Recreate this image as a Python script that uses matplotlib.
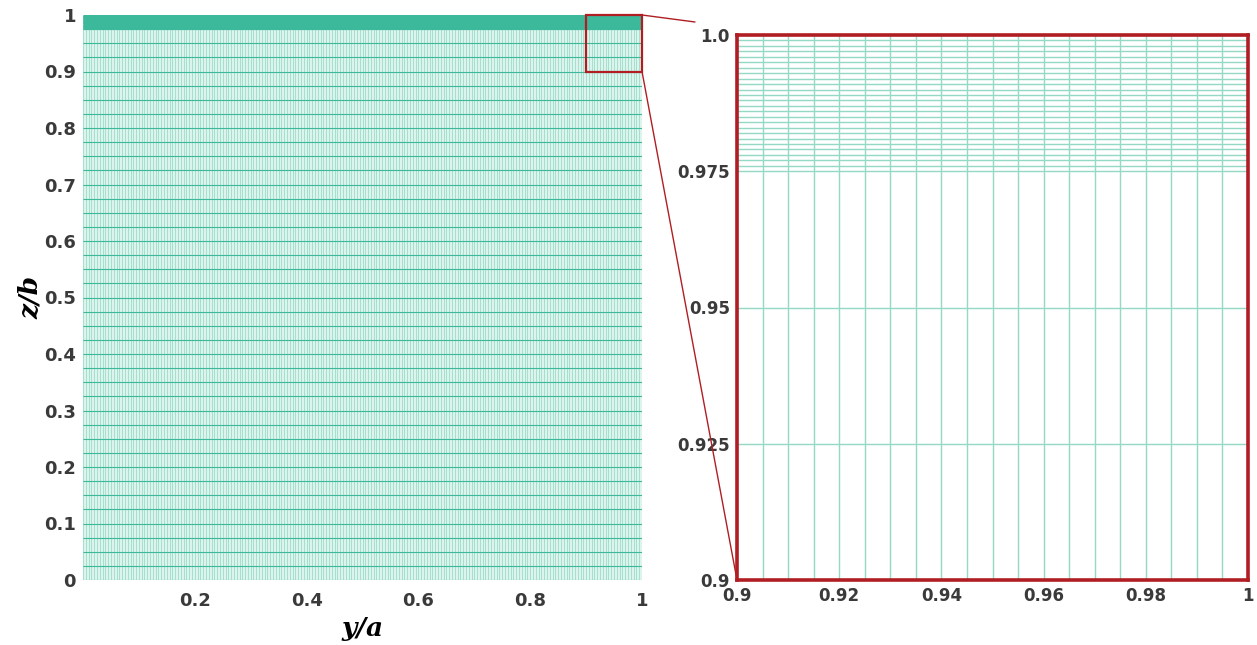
import numpy as np
import matplotlib
matplotlib.use('Agg')
import matplotlib.pyplot as plt
from matplotlib.patches import Rectangle, ConnectionPatch

# mesh spacing
y_step = 0.005          # spanwise spacing (y/a)
z_coarse_step = 0.025   # core spacing (z/b)
z_fine_step = 0.001     # refined layer near the wall
z_refine_start = 0.975

y_lines = np.round(np.arange(0, 1 + y_step / 2, y_step), 6)
z_lines = np.round(np.concatenate([np.arange(0, z_refine_start, z_coarse_step),
                                   np.arange(z_refine_start, 1 + z_fine_step / 2, z_fine_step)]), 6)

left_yticks = [0, 0.1, 0.2, 0.3, 0.4, 0.5, 0.6, 0.7, 0.8, 0.9, 1]
left_yticklabels = ['0', '0.1', '0.2', '0.3', '0.4', '0.5', '0.6', '0.7', '0.8', '0.9', '1']
left_xticks = [0.2, 0.4, 0.6, 0.8, 1]
left_xticklabels = ['0.2', '0.4', '0.6', '0.8', '1']
zoom_xticks = [0.9, 0.92, 0.94, 0.96, 0.98, 1]
zoom_xticklabels = ['0.9', '0.92', '0.94', '0.96', '0.98', '1']
zoom_yticks = [0.9, 0.925, 0.95, 0.975, 1.0]
zoom_yticklabels = ['0.9', '0.925', '0.95', '0.975', '1.0']

mesh_col = '#3cb89a'
light_col = '#93d9c6'
red = '#b01e23'
txt = '#3a3a3a'

W, H = 1257, 645
fig = plt.figure(figsize=(W / 100, H / 100), dpi=100)

ax = fig.add_axes([83 / W, 1 - 580 / H, 559 / W, 565 / H])
ax.set_facecolor('#dcf4ec')
ax.vlines(y_lines, 0, 1, color='#8ed7c3', lw=0.5)
ax.hlines(z_lines, 0, 1, color=mesh_col, lw=0.8)
ax.set_xlim(0, 1)
ax.set_ylim(0, 1)
for s in ax.spines.values():
    s.set_visible(False)
ax.set_xticks(left_xticks)
ax.set_xticklabels(left_xticklabels)
ax.set_yticks(left_yticks)
ax.set_yticklabels(left_yticklabels)
ax.tick_params(length=0, labelsize=13, labelcolor=txt, pad=5)
ax.tick_params(axis='x', pad=9)
for lab in ax.get_xticklabels() + ax.get_yticklabels():
    lab.set_fontweight('bold')
ax.set_xlabel('y/a', fontsize=19, fontweight='bold', fontstyle='italic',
              family='DejaVu Serif', color='black')
ax.set_ylabel('z/b', fontsize=19, fontweight='bold', fontstyle='italic',
              family='DejaVu Serif', color='black')
ax.xaxis.set_label_coords(0.5, -0.064)
ax.yaxis.set_label_coords(-0.072, 0.5)
ax.add_patch(Rectangle((0.9, 0.9), 0.1, 0.1, fill=False, ec=red, lw=1.6,
                       zorder=5, clip_on=False))

# zoomed view
az = fig.add_axes([737 / W, 1 - 580 / H, 511 / W, 545 / H])
zx = y_lines[y_lines >= 0.9 - 1e-9]
zz = z_lines[z_lines >= 0.9 - 1e-9]
az.vlines(zx, 0.9, 1.0, color=light_col, lw=1.0)
az.hlines(zz, 0.9, 1.0, color=light_col, lw=1.0)
az.set_xlim(0.9, 1.0)
az.set_ylim(0.9, 1.0)
for s in az.spines.values():
    s.set_color(red)
    s.set_linewidth(2.6)
az.set_xticks(zoom_xticks)
az.set_xticklabels(zoom_xticklabels)
az.set_yticks(zoom_yticks)
az.set_yticklabels(zoom_yticklabels)
az.tick_params(length=0, labelsize=12, labelcolor=txt, pad=5)
for lab in az.get_xticklabels() + az.get_yticklabels():
    lab.set_fontweight('bold')

con1 = ConnectionPatch(xyA=(1.0, 1.0), coordsA=ax.transData,
                       xyB=(695 / W, 1 - 22 / H), coordsB=fig.transFigure,
                       color=red, lw=1.0)
con2 = ConnectionPatch(xyA=(1.0, 0.9), coordsA=ax.transData,
                       xyB=(0.9, 0.9), coordsB=az.transData,
                       color=red, lw=1.0)
fig.add_artist(con1)
fig.add_artist(con2)

fig.savefig('out.png', dpi=100)
